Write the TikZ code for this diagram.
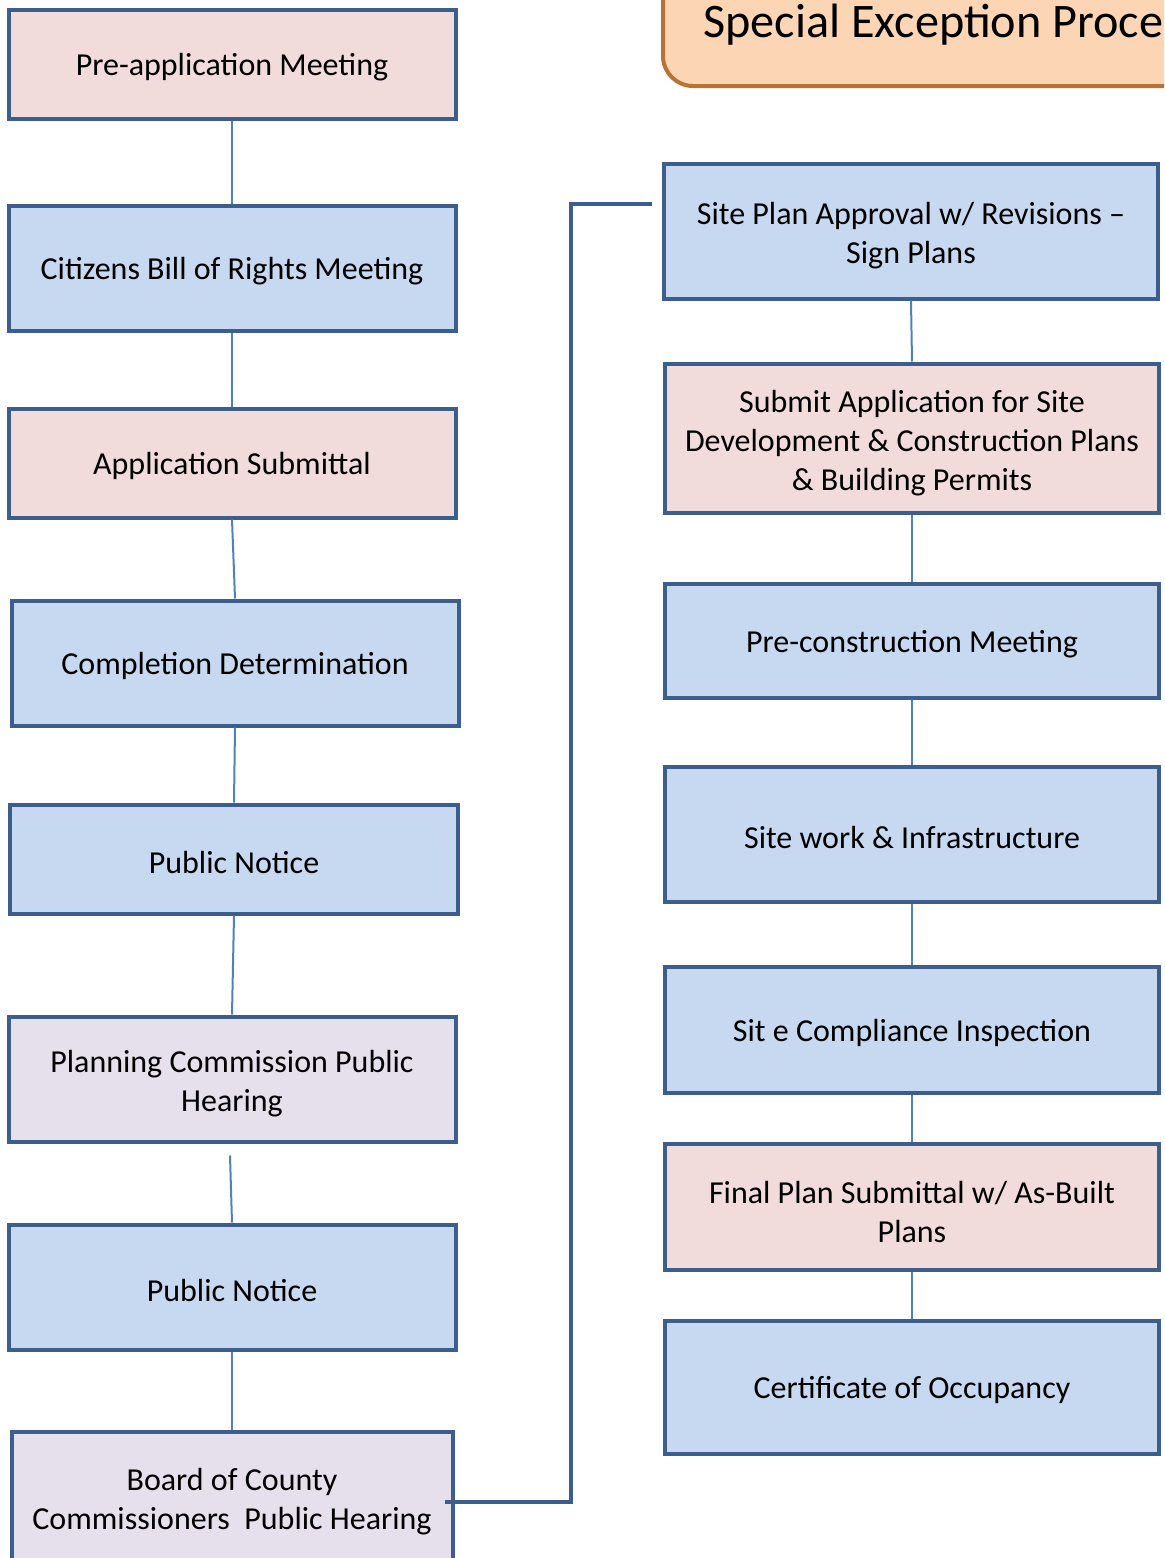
\documentclass[tikz,border=0pt]{standalone}
\usepackage{fontspec}
\setmainfont{Carlito}
\usetikzlibrary{positioning}
\definecolor{boxline}{RGB}{59,94,140}
\definecolor{linkblue}{RGB}{79,129,189}
\definecolor{pinkfill}{RGB}{242,220,219}
\definecolor{bluefill}{RGB}{198,217,241}
\definecolor{lilacfill}{RGB}{229,224,236}
\definecolor{peachfill}{RGB}{252,213,181}
\definecolor{titleline}{RGB}{184,114,52}
\newcommand{\stagestrut}{\rule{0pt}{16pt}}
\begin{document}
\begin{tikzpicture}[x=0.5pt,y=-0.5pt,
  stage/.style={draw=boxline,line width=2pt,align=center,inner sep=0pt,font=\fontsize{16}{19.5}\selectfont,
    execute at begin node={\rule{0pt}{14.5pt}}},
  leftbox/.style={stage,minimum width=223.5pt},
  rightbox/.style={stage,minimum width=247pt},
  link/.style={draw=linkblue,line width=1pt},
  mainlink/.style={draw=boxline,line width=2pt}]
\useasboundingbox (0,0) rectangle (1164,1558);
\clip (0,0) rectangle (1164,1558);

% title
\draw[fill=peachfill,draw=titleline,line width=2pt,rounded corners=15pt] (663,-40) rectangle (1240,86);
\node[font=\fontsize{24.1}{30}\selectfont,anchor=base west,inner sep=0pt] (title) at (703,37) {Special Exception Proce};

% left column
\node[leftbox,fill=pinkfill,minimum height=54.5pt] (preapp) at (232,64) {Pre-application Meeting};
\node[leftbox,fill=bluefill,minimum height=62.5pt] (rights) at (232,268) {Citizens Bill of Rights Meeting};
\node[leftbox,fill=pinkfill,minimum height=54.5pt] (submittal) at (232,463) {Application Submittal};
\node[leftbox,fill=bluefill,minimum height=62.5pt] (completion) at (235,663) {Completion Determination};
\node[leftbox,fill=bluefill,minimum height=54.5pt,minimum width=224pt] (noticeA) at (234,859) {Public Notice};
\node[leftbox,fill=lilacfill,minimum height=62.5pt] (pchearing) at (232,1079) {\stagestrut Planning Commission Public\\Hearing};
\node[leftbox,fill=bluefill,minimum height=62.5pt] (noticeB) at (232,1287) {Public Notice};
\node[leftbox,fill=lilacfill,minimum height=65pt,minimum width=220.5pt] (bocc) at (232,1497) {\stagestrut Board of County\\Commissioners\ \ Public Hearing};

% right column
\node[rightbox,fill=bluefill,minimum height=67.5pt] (siteplan) at (911,231) {\stagestrut Site Plan Approval w/ Revisions --\\Sign Plans};
\node[rightbox,fill=pinkfill,minimum height=74.5pt] (permits) at (912,438) {\stagestrut Submit Application for Site\\Development \& Construction Plans\\\& Building Permits};
\node[rightbox,fill=bluefill,minimum height=57pt] (precon) at (912,641) {Pre-construction Meeting};
\node[rightbox,fill=bluefill,minimum height=67.5pt] (sitework) at (912,834) {Site work \& Infrastructure};
\node[rightbox,fill=bluefill,minimum height=63pt] (inspection) at (912,1030) {Sit e Compliance Inspection};
\node[rightbox,fill=pinkfill,minimum height=63pt] (asbuilt) at (912,1207) {\stagestrut Final Plan Submittal w/ As-Built\\Plans};
\node[rightbox,fill=bluefill,minimum height=66.5pt] (occupancy) at (912,1387) {Certificate of Occupancy};

% links
\coordinate (pcgap) at ([shift={(-2,12)}]pchearing.south);
\draw[link] (preapp.south) -- (rights.north);
\draw[link] (rights.south) -- (submittal.north);
\draw[link] (submittal.south) -- (completion.north);
\draw[link] (completion.south) -- (noticeA.north);
\draw[link] (noticeA.south) -- (pchearing.north);
\draw[link] (pcgap) -- (noticeB.north);
\draw[link] (noticeB.south) -- (bocc.north);

\draw[link] (siteplan.south) -- (permits.north);
\draw[link] (permits.south) -- (precon.north);
\draw[link] (precon.south) -- (sitework.north);
\draw[link] (sitework.south) -- (inspection.north);
\draw[link] (inspection.south) -- (asbuilt.north);
\draw[link] (asbuilt.south) -- (occupancy.north);

\coordinate (boccout) at ([shift={(-10,5)}]bocc.east);
\coordinate (siteplanin) at ([shift={(-10,-27)}]siteplan.west);
\draw[mainlink] (boccout) -- ++(126,0) |- (siteplanin);

\end{tikzpicture}
\end{document}
